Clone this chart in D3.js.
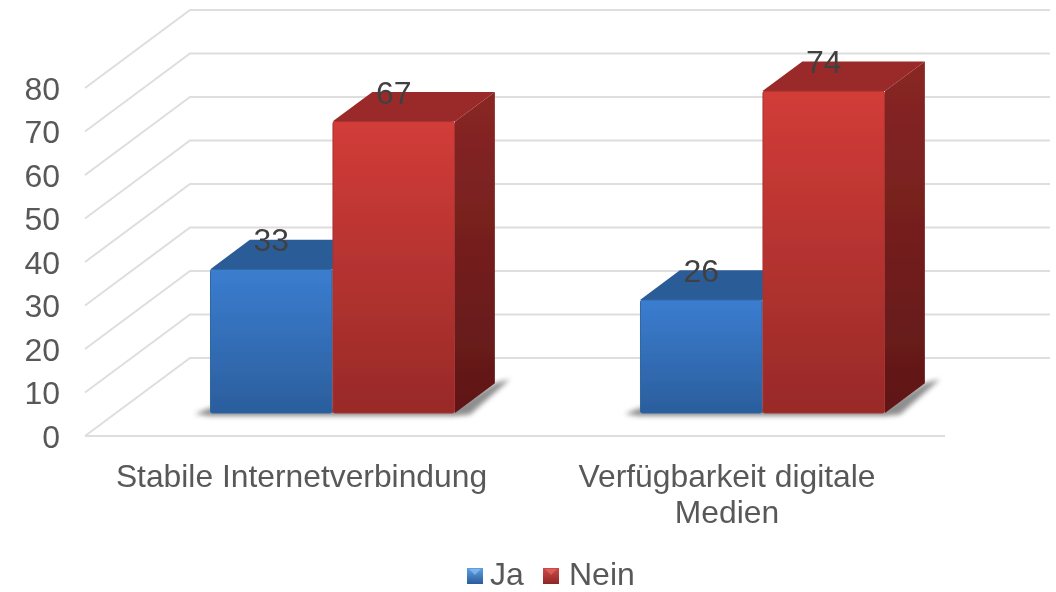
<!DOCTYPE html>
<html><head><meta charset="utf-8">
<script src="https://cdn.jsdelivr.net/npm/d3@7"></script>
<style>html,body{margin:0;background:#fff;overflow:hidden}svg{display:block}text{font-family:"Liberation Sans",Arial,sans-serif}</style>
</head><body><svg id="c" width="1056" height="592"></svg>
<script>
const categories=[["Stabile Internetverbindung"],["Verfügbarkeit digitale","Medien"]];
const seriesNames=["Ja","Nein"];
const ja=[33,26];
const nein=[67,74];
const ticks=[0,10,20,30,40,50,60,70,80];

const svg=d3.select("#c");
const y=d3.scaleLinear().domain([0,80]).range([436,88]);
const x0=d3.scaleBand().domain([0,1]).range([85,945]);
const depthX=d3.scaleLinear().domain([0,1]).range([0,105]);
const depthY=d3.scaleLinear().domain([0,1]).range([0,-78]);
const dFront=0.295, dBack=0.675;
const barW=122.5;
const line=d3.line();

const defs=svg.append("defs");
function grad(id,stops){
  const g=defs.append("linearGradient").attr("id",id).attr("x1",0).attr("y1",0).attr("x2",0).attr("y2",1);
  stops.forEach((c,i)=>g.append("stop").attr("offset",i/(stops.length-1)).attr("stop-color",c));
}
grad("f0",["#3b7dd0","#2b5e9d"]);
grad("f1",["#d23c38","#982a28"]);
grad("s0",["#2b5b95","#1d3f6c"]);
grad("s1",["#892624","#5f1717"]);
grad("l0",["#5ea0e4","#2a5c9b"]);
grad("l1",["#d04a46","#8e2725"]);
defs.append("filter").attr("id","bl").attr("x","-20%").attr("y","-50%").attr("width","140%").attr("height","200%")
  .append("feGaussianBlur").attr("stdDeviation",2.6);
defs.append("filter").attr("id","soft").attr("x",0).attr("y",0).attr("width","100%").attr("height","100%")
  .append("feGaussianBlur").attr("stdDeviation",0.5);

const root=svg.append("g").attr("filter","url(#soft)");
root.append("rect").attr("width",1056).attr("height",592).attr("fill","#fff");

// gridlines (side wall + back wall), floor front line
const gridG=root.append("g");
ticks.forEach(t=>{
  const a=[85,y(t)], b=[85+depthX(1),y(t)+depthY(1)], c=[1050,y(t)+depthY(1)];
  gridG.append("path").attr("d",line([a,b,c])).attr("fill","none").attr("stroke","#dedede").attr("stroke-width",2);
});
gridG.append("path").attr("d",line([[85,y(0)],[945,y(0)]])).attr("fill","none").attr("stroke","#dedede").attr("stroke-width",2);

// axis labels
root.append("g").selectAll("text").data(ticks).join("text")
  .attr("x",60).attr("y",d=>y(d)+11.5).attr("text-anchor","end")
  .attr("font-size",32).attr("fill","#595959").text(d=>d);

// bars
const series=[ja,nein];
const fx=xv=>xv+depthX(dFront);
const fy=v=>y(v)+depthY(dFront);
const ddx=depthX(dBack-dFront), ddy=depthY(dBack-dFront);
const barsG=root.append("g");

categories.forEach((cat,ci)=>{
  const center=fx(x0(ci)+x0.bandwidth()/2)+1.5;
  const left=center-barW;
  const right=center+barW;
  const yb0=fy(0);
  // floor shadow: thin strip under the front, wedge beyond the side face
  barsG.append("path")
    .attr("d",line([[left-15,yb0+1],[left,yb0-5],[right,yb0-5],[right+ddx,yb0+ddy],[right+ddx+15,yb0+ddy-4],[right+15,yb0+1.5],[right,yb0+3],[left,yb0+3]])+"Z")
    .attr("fill","#6f6f6f").attr("opacity",0.8).attr("filter","url(#bl)");
  series.forEach((vals,si)=>{
    const v=vals[ci];
    const xl=left+si*barW, xr=xl+barW;
    const yt=fy(v), yb=fy(0);
    // top face
    barsG.append("path").attr("d",line([[xl,yt],[xl+ddx,yt+ddy],[xr+ddx,yt+ddy],[xr,yt]])+"Z")
      .attr("fill",si?"#9a2c2a":"#2c5c98");
    // side face
    barsG.append("path").attr("d",line([[xr,yt],[xr+ddx,yt+ddy],[xr+ddx,yb+ddy],[xr,yb]])+"Z")
      .attr("fill",`url(#s${si})`);
    // front face
    barsG.append("rect").attr("x",xl+0.5).attr("y",yt).attr("width",barW-1).attr("height",yb-yt).attr("rx",2)
      .attr("fill",`url(#f${si})`).attr("stroke",si?"#a83230":"#2f659f").attr("stroke-width",1);
  });
  series.forEach((vals,si)=>{
    const v=vals[ci];
    const xl=left+si*barW;
    barsG.append("text").attr("x",xl+barW/2).attr("y",fy(v)-18)
      .attr("text-anchor","middle").attr("font-size",32).attr("fill","#404040").text(v);
  });
  // category label
  cat.forEach((ln,i)=>{
    root.append("text").attr("x",ci?727:301.5).attr("y",487+i*36).attr("text-anchor","middle")
      .attr("font-size",31.8).attr("fill","#595959").text(ln);
  });
});

// legend
const legendX=[467,543], legendTX=[490,569];
seriesNames.forEach((n,i)=>{
  const g=root.append("g");
  g.append("rect").attr("x",legendX[i]).attr("y",568).attr("width",16).attr("height",16).attr("fill",`url(#l${i})`);
  g.append("path").attr("d",line([[legendX[i]+2,569],[legendX[i]+14,569],[legendX[i]+8,575]])+"Z").attr("fill",i?"#e06a66":"#8cc0f0").attr("opacity",0.7);
  g.append("text").attr("x",legendTX[i]).attr("y",585).attr("font-size",32).attr("fill","#595959").text(n);
});
</script></body></html>
